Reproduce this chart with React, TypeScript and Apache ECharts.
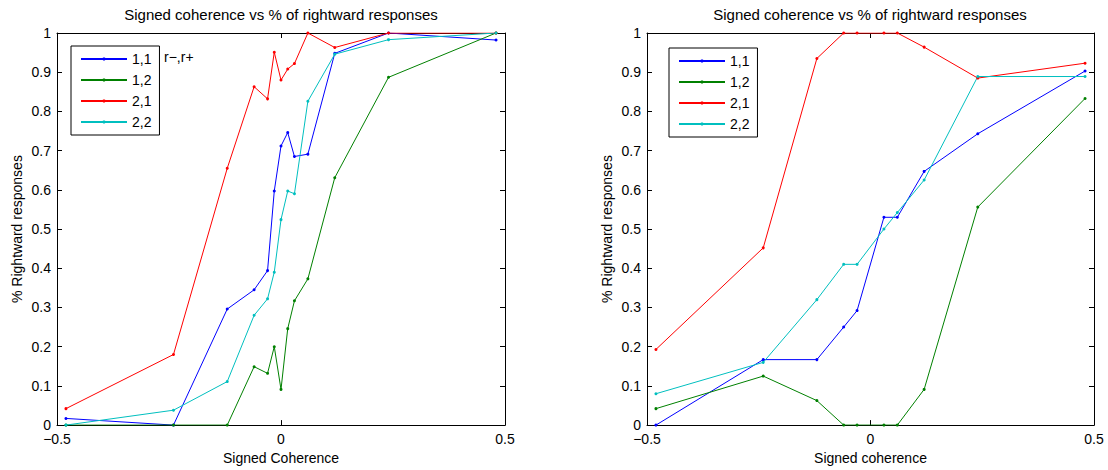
import React, { useEffect, useRef } from "react";
import * as echarts from "echarts";

// Signed coherence levels for each session
const leftCoherence = [-0.48, -0.24, -0.12, -0.06, -0.03, -0.015, 0, 0.015, 0.03, 0.06, 0.12, 0.24, 0.48];
const rightCoherence = [-0.48, -0.24, -0.12, -0.06, -0.03, 0.03, 0.06, 0.12, 0.24, 0.48];

// Fraction of rightward responses per condition (left panel)
const left11 = [0.017, 0, 0.296, 0.345, 0.394, 0.597, 0.712, 0.746, 0.685, 0.691, 0.948, 1.0, 0.982];
const left12 = [0, 0, 0, 0.149, 0.132, 0.2, 0.091, 0.246, 0.317, 0.373, 0.631, 0.887, 1.0];
const left21 = [0.042, 0.18, 0.655, 0.863, 0.832, 0.951, 0.88, 0.908, 0.922, 1.0, 0.963, 1.0, 1.0];
const left22 = [0, 0.038, 0.111, 0.28, 0.322, 0.39, 0.524, 0.597, 0.59, 0.826, 0.946, 0.983, 1.0];

// Fraction of rightward responses per condition (right panel)
const right11 = [0, 0.167, 0.167, 0.25, 0.292, 0.53, 0.53, 0.647, 0.743, 0.903];
const right12 = [0.042, 0.125, 0.0625, 0, 0, 0, 0, 0.091, 0.556, 0.833];
const right21 = [0.193, 0.452, 0.935, 1, 1, 1, 1, 0.964, 0.885, 0.923];
const right22 = [0.08, 0.16, 0.32, 0.41, 0.41, 0.5, 0.542, 0.625, 0.889, 0.889];

const seriesNames = ["1,1", "1,2", "2,1", "2,2"];
const seriesColors = ["#0000ff", "#008000", "#ff0000", "#00bfbf"];
const leftValues = [left11, left12, left21, left22];
const rightValues = [right11, right12, right21, right22];

const titleText = "Signed coherence vs % of rightward responses";
const yName = "% Rightward responses";
const leftXName = "Signed Coherence";
const rightXName = "Signed coherence";
const legendNote = "r\u2212,r+";

const FONT = "'Liberation Sans', Arial, Helvetica, sans-serif";

const fmtX = (v: number) => (v < 0 ? "\u2212" + Math.abs(v) : String(v));
const fmtY = (v: number) => String(Math.round(v * 10) / 10);

function bottomX(grid: number, name: string) {
  return {
    type: "value",
    gridIndex: grid,
    position: "bottom",
    min: -0.5,
    max: 0.5,
    interval: 0.5,
    name,
    nameLocation: "middle",
    nameGap: 24,
    nameTextStyle: { color: "#000", fontSize: 14, fontFamily: FONT },
    axisLine: { show: true, onZero: false, lineStyle: { color: "#000", width: 1 } },
    axisTick: { show: true, inside: true, length: 5, lineStyle: { color: "#000" } },
    axisLabel: { color: "#000", fontSize: 14, lineHeight: 14, fontFamily: FONT, margin: 7, formatter: fmtX },
    splitLine: { show: false },
  };
}

function topX(grid: number) {
  return {
    type: "value",
    gridIndex: grid,
    position: "top",
    min: -0.5,
    max: 0.5,
    interval: 0.5,
    axisLine: { show: true, onZero: false, lineStyle: { color: "#000", width: 1 } },
    axisTick: { show: true, inside: true, length: 5, lineStyle: { color: "#000" } },
    axisLabel: { show: false },
    splitLine: { show: false },
  };
}

function leftY(grid: number) {
  return {
    type: "value",
    gridIndex: grid,
    position: "left",
    min: 0,
    max: 1,
    interval: 0.1,
    name: yName,
    nameLocation: "middle",
    nameRotate: 90,
    nameGap: 33,
    nameTextStyle: { color: "#000", fontSize: 14, fontFamily: FONT },
    axisLine: { show: true, onZero: false, lineStyle: { color: "#000", width: 1 } },
    axisTick: { show: true, inside: true, length: 5, lineStyle: { color: "#000" } },
    axisLabel: { color: "#000", fontSize: 14, lineHeight: 12, fontFamily: FONT, margin: 6, formatter: fmtY },
    splitLine: { show: false },
  };
}

function rightY(grid: number) {
  return {
    type: "value",
    gridIndex: grid,
    position: "right",
    min: 0,
    max: 1,
    interval: 0.1,
    axisLine: { show: true, onZero: false, lineStyle: { color: "#000", width: 1 } },
    axisTick: { show: true, inside: true, length: 5, lineStyle: { color: "#000" } },
    axisLabel: { show: false },
    splitLine: { show: false },
  };
}

function lineSeries(name: string, color: string, xs: number[], ys: number[], axis: number) {
  return {
    type: "line",
    name,
    xAxisIndex: axis,
    yAxisIndex: axis,
    data: xs.map((x, i) => [x, ys[i]]),
    color,
    symbol: "circle",
    symbolSize: 3,
    showSymbol: true,
    lineStyle: { color, width: 1 },
    itemStyle: { color },
    emphasis: { disabled: true },
  };
}

function makeLegend(left: number, top: number) {
  return {
    orient: "vertical",
    left,
    top,
    data: seriesNames,
    itemWidth: 46,
    itemHeight: 4,
    itemGap: 7,
    padding: [6, 8, 6, 9],
    borderColor: "#000",
    borderWidth: 1,
    backgroundColor: "#fff",
    selectedMode: false,
    textStyle: { color: "#000", fontSize: 14, fontFamily: FONT },
  };
}

export default function App() {
  const ref = useRef<HTMLDivElement>(null);

  useEffect(() => {
    if (!ref.current) return;
    const chart = echarts.init(ref.current, null, { renderer: "svg" });

    const series: any[] = [];
    seriesNames.forEach((n, i) => series.push(lineSeries(n, seriesColors[i], leftCoherence, leftValues[i], 0)));
    seriesNames.forEach((n, i) => series.push(lineSeries(n, seriesColors[i], rightCoherence, rightValues[i], 2)));

    chart.setOption({
      animation: false,
      backgroundColor: "#fff",
      textStyle: { fontFamily: FONT },
      title: [
        {
          text: titleText,
          left: 281,
          top: 7,
          padding: 0,
          textAlign: "center",
          textStyle: { color: "#000", fontSize: 15, fontWeight: "normal", fontFamily: FONT },
        },
        {
          text: titleText,
          left: 870,
          top: 7,
          padding: 0,
          textAlign: "center",
          textStyle: { color: "#000", fontSize: 15, fontWeight: "normal", fontFamily: FONT },
        },
      ],
      grid: [
        { left: 57, top: 33, width: 448, height: 393, containLabel: false },
        { left: 647, top: 33, width: 447, height: 393, containLabel: false },
      ],
      xAxis: [bottomX(0, leftXName), topX(0), bottomX(1, rightXName), topX(1)],
      yAxis: [leftY(0), rightY(0), leftY(1), rightY(1)],
      legend: [makeLegend(71, 46), makeLegend(669, 48)],
      graphic: [
        {
          type: "text",
          left: 164,
          top: 50,
          style: { text: legendNote, fill: "#000", fontSize: 14, fontFamily: FONT },
        },
      ],
      series,
    });

    return () => chart.dispose();
  }, []);

  return (
    <div
      ref={ref}
      style={{ position: "absolute", left: 0, top: 0, width: 1108, height: 470 }}
    />
  );
}
